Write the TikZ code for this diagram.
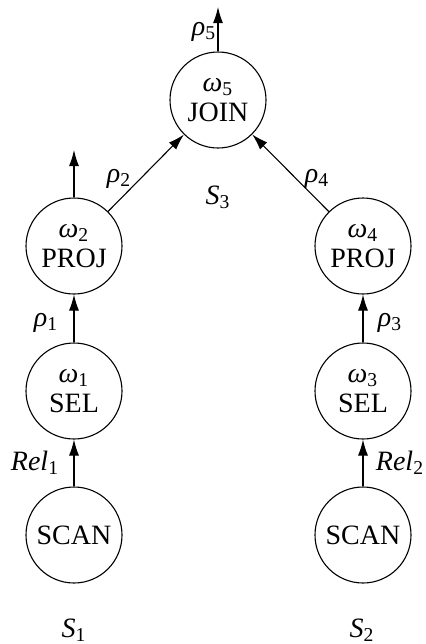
\documentclass[tikz,border=0pt]{standalone}
\usepackage{fontspec}
\setmainfont{Liberation Serif}
\usetikzlibrary{arrows.meta}
\newcommand{\gr}[2]{{\itshape #1}\textsubscript{#2}}
\begin{document}
\begin{tikzpicture}[x=0.5pt,y=-0.5pt,
  font=\fontsize{14}{15}\selectfont,
  op/.style={circle,draw,line width=0.55pt,minimum size=48pt,inner sep=0pt,align=center},
  flow/.style={line width=0.55pt,-{Latex[length=8pt,width=5pt]}},
  lbl/.style={inner sep=0pt}]
\useasboundingbox (0,0) rectangle (425,644);
% operator nodes
\node[op] (join)  at (218,100) {\gr{ω}{5}\\JOIN};
\node[op] (projL) at (74,246)  {\gr{ω}{2}\\PROJ};
\node[op] (selL)  at (74,391)  {\gr{ω}{1}\\SEL};
\node[op] (scanL) at (74,535)  {SCAN};
\node[op] (projR) at (363,246) {\gr{ω}{4}\\PROJ};
\node[op] (selR)  at (363,391) {\gr{ω}{3}\\SEL};
\node[op] (scanR) at (363,535) {SCAN};
% free ends of the output streams
\coordinate (outJ) at (218,7);
\coordinate (outP) at (74,150);
% streams
\draw[flow] (scanL) -- (selL);
\draw[flow] (selL) -- (projL);
\draw[flow] (projL) -- (join);
\draw[flow] (projL.north) -- (outP);
\draw[flow] (scanR) -- (selR);
\draw[flow] (selR) -- (projR);
\draw[flow] (projR) -- (join);
\draw[flow] (join.north) -- (outJ);
% stream labels
\node[lbl] (r5) at (204,32)  {\gr{ρ}{5}};
\node[lbl] (r2) at (119,179) {\gr{ρ}{2}};
\node[lbl] (r1) at (46,323)  {\gr{ρ}{1}};
\node[lbl] (r4) at (317,179) {\gr{ρ}{4}};
\node[lbl] (r3) at (390,323) {\gr{ρ}{3}};
\node[lbl] (rel1) at (35,463)  {\gr{Rel}{1}};
\node[lbl] (rel2) at (400,463) {\gr{Rel}{2}};
% sites
\node[lbl] (s3) at (218,197) {\gr{S}{3}};
\node[lbl] (s1) at (74,630)  {\gr{S}{1}};
\node[lbl] (s2) at (362,630) {\gr{S}{2}};
\end{tikzpicture}
\end{document}
